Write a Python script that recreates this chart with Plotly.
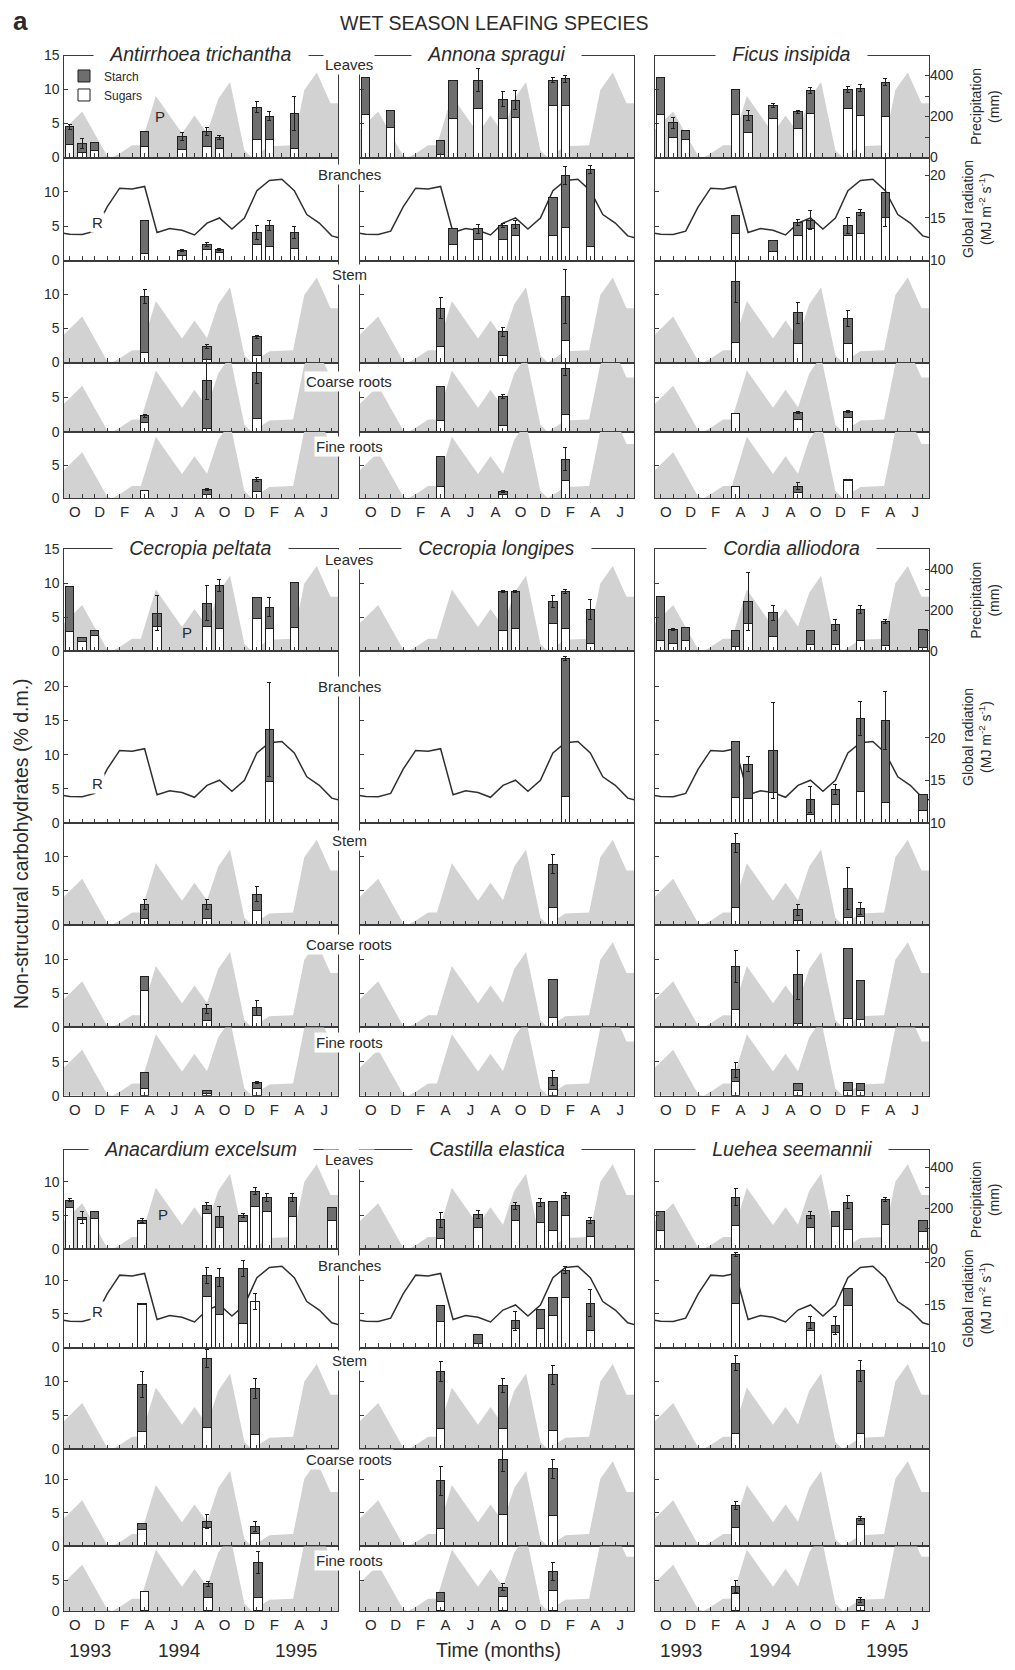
import plotly.graph_objects as go

W, H = 1015, 1670
FONT = "Liberation Sans, Arial, sans-serif"

# ---------------- data ----------------
MONTH_TICKS = list(range(0, 22))          # 0 = Oct 1993 ... 21 = Jul 1995
MONTH_TEXT = ['O', '', 'D', '', 'F', '', 'A', '', 'J', '', 'A', '',
              'O', '', 'D', '', 'F', '', 'A', '', 'J', '']
YEAR_LABELS = ['1993', '1994', '1995']
YEAR_POS = [1.6, 8.8, 18.1]

# monthly precipitation (mm)
PREC_MONTHS = [-0.5, 1.0, 3.0, 3.4, 4.0, 5.0, 5.7, 6.9, 9.0, 10.0, 11.0, 11.9,
               12.85, 14.0, 14.6, 16.0, 17.9, 18.8, 19.8, 20.9, 21.5]
PREC_MM = [135, 225, 8, 0, 20, 60, 60, 300, 118, 205, 120, 285,
           368, 35, 0, 55, 60, 330, 415, 265, 265]

# global radiation (MJ m-2 s-1)
RAD_MONTHS = [-0.5, 0, 1, 2, 3, 4, 5, 6, 7, 8, 9, 10, 11, 12, 13, 14, 15, 16,
              17, 18, 19, 20, 21, 21.5]
RAD_MJ = [13.2, 13.1, 13.05, 13.45, 16.3, 18.5, 18.4, 18.7, 13.3, 13.75, 13.55,
          13.0, 14.4, 15.0, 13.7, 15.0, 18.2, 19.4, 19.55, 18.2, 15.4, 14.4,
          12.9, 12.7]

ORGANS = ['Leaves', 'Branches', 'Stem', 'Coarse roots', 'Fine roots']

# (month, sugars, total NSC, error) for every sampled bar
ANTIRRHOEA = {
    'Leaves': [(0, 1.85, 4.5, 0.4), (1, 0.8, 2.1, 0.7), (2, 1.1, 2.2, 0), (6, 1.6, 3.8, 0),
               (9, 1.25, 3.05, 0.6), (11, 1.6, 3.8, 0.6), (12, 1.35, 3.0, 0.3),
               (15, 2.7, 7.4, 0.8), (16, 2.7, 6.1, 0.7), (18, 1.35, 6.5, 2.5)],
    'Branches': [(6, 1.0, 5.85, 0), (9, 0.8, 1.45, 0.2), (11, 1.55, 2.4, 0.3), (12, 1.2, 1.6, 0.2),
                 (15, 2.4, 4.1, 1.0), (16, 2.1, 5.1, 0.7), (18, 1.7, 4.1, 0.9)],
    'Stem': [(6, 1.5, 9.75, 1.0), (11, 0.4, 2.3, 0.3), (15, 1.0, 3.8, 0.2)],
    'Coarse roots': [(6, 1.4, 2.3, 0.2), (11, 0.5, 7.4, 2.7), (15, 2.0, 8.5, 1.5)],
    'Fine roots': [(6, 1.1, 1.15, 0), (11, 0.5, 1.3, 0.2), (15, 1.0, 2.8, 0.3)],
}
ANNONA = {
    'Leaves': [(0, 6.3, 11.75, 0), (2, 4.4, 6.9, 0), (6, 0.4, 2.5, 0), (7, 5.7, 11.4, 0),
               (9, 7.2, 11.4, 1.7), (11, 5.75, 8.6, 1.1), (12, 5.85, 8.4, 1.4),
               (15, 7.65, 11.4, 0.4), (16, 7.65, 11.6, 0.5)],
    'Branches': [(7, 2.4, 4.7, 0), (9, 3.0, 4.6, 0.7), (11, 3.0, 5.1, 0.3), (12, 3.6, 5.2, 0.6),
                 (15, 3.6, 9.2, 0), (16, 4.8, 12.4, 1.3), (18, 2.0, 13.3, 0.6)],
    'Stem': [(6, 2.4, 8.0, 1.5), (11, 1.0, 4.5, 0.6), (16, 3.3, 9.75, 4.0)],
    'Coarse roots': [(6, 1.6, 6.6, 0), (11, 0.9, 5.15, 0.3), (16, 2.5, 9.1, 1.0)],
    'Fine roots': [(6, 1.8, 6.3, 0), (11, 0.5, 1.0, 0.2), (16, 2.6, 5.9, 1.7)],
}
FICUS = {
    'Leaves': [(0, 6.35, 11.7, 0), (1, 2.9, 5.1, 0.8), (2, 2.7, 4.0, 0), (6, 6.35, 10.0, 0),
               (7, 3.7, 6.2, 0.7), (9, 5.7, 7.7, 0.3), (11, 4.3, 6.7, 0.2), (12, 6.55, 9.85, 0.5),
               (15, 7.2, 10.0, 0.4), (16, 6.2, 10.2, 0.5), (18, 6.1, 11.1, 0.5)],
    'Branches': [(6, 3.9, 6.5, 0), (9, 1.35, 2.9, 0), (11, 3.6, 5.55, 0.5), (12, 4.7, 5.9, 1.4),
                 (15, 3.6, 5.1, 1.2), (16, 4.0, 7.0, 0.4), (18, 6.2, 9.9, 5.0)],
    'Stem': [(6, 2.95, 11.9, 3.0), (11, 2.8, 7.3, 1.6), (15, 2.8, 6.45, 1.2)],
    'Coarse roots': [(6, 2.6, 2.6, 0), (11, 1.75, 2.8, 0.2), (15, 2.1, 2.95, 0.2)],
    'Fine roots': [(6, 1.8, 1.8, 0), (11, 0.8, 1.8, 0.5), (15, 2.6, 2.8, 0)],
}
CECROPIA_P = {
    'Leaves': [(0, 2.95, 9.6, 0), (1, 1.45, 2.0, 0), (2, 2.3, 3.05, 0), (7, 3.7, 5.6, 2.6),
               (11, 3.7, 7.05, 2.6), (12, 3.3, 9.7, 0.9), (15, 4.85, 7.9, 0),
               (16, 3.3, 6.5, 1.4), (18, 3.45, 10.05, 0)],
    'Branches': [(16, 6.0, 13.7, 6.9)],
    'Stem': [(6, 0.95, 2.95, 0.75), (11, 0.95, 2.95, 0.75), (15, 2.15, 4.5, 1.1)],
    'Coarse roots': [(6, 5.35, 7.45, 0), (11, 1.0, 2.7, 0.7), (15, 1.7, 2.9, 1.1)],
    'Fine roots': [(6, 1.1, 3.4, 0), (11, 0.4, 0.7, 0), (15, 1.1, 1.95, 0.2)],
}
CECROPIA_L = {
    'Leaves': [(11, 3.0, 8.8, 0.2), (12, 3.3, 8.8, 0.2), (15, 4.0, 7.35, 0.9),
               (16, 3.3, 8.8, 0.3), (18, 1.05, 6.1, 1.5)],
    'Branches': [(16, 3.8, 24.1, 0.3)],
    'Stem': [(15, 2.5, 8.9, 1.4)],
    'Coarse roots': [(15, 1.5, 7.05, 0)],
    'Fine roots': [(15, 0.9, 2.65, 1.1)],
}
CORDIA = {
    'Leaves': [(0, 1.6, 8.1, 0), (1, 1.1, 3.2, 0.2), (2, 1.6, 3.45, 0), (6, 0.7, 3.1, 0),
               (7, 4.0, 7.35, 4.3), (9, 2.1, 5.65, 1.1), (12, 1.0, 3.1, 0), (14, 1.0, 3.9, 0.8),
               (16, 1.5, 6.2, 0.6), (18, 0.8, 4.4, 0.3), (21, 0.5, 3.2, 0)],
    'Branches': [(6, 3.7, 12.0, 0), (7, 3.55, 8.6, 1.1), (9, 4.5, 10.6, 7.1), (12, 1.15, 3.4, 1.9),
                 (14, 2.65, 4.85, 0.7), (16, 4.65, 15.3, 2.5), (18, 3.05, 15.0, 4.3),
                 (21, 1.85, 4.1, 0)],
    'Stem': [(6, 2.55, 12.0, 1.4), (11, 0.7, 2.2, 0.8), (15, 1.1, 5.4, 3.1), (16, 1.2, 2.45, 0.9)],
    'Coarse roots': [(6, 2.65, 8.9, 2.3), (11, 0.6, 7.7, 3.6), (15, 1.3, 11.5, 0), (16, 1.2, 6.9, 0)],
    'Fine roots': [(6, 2.05, 3.8, 1.1), (11, 0.7, 1.8, 0), (15, 0.8, 1.95, 0), (16, 0.7, 1.8, 0)],
}
ANACARDIUM = {
    'Leaves': [(0, 6.15, 7.3, 0.2), (1, 4.4, 4.7, 0.9), (2, 4.6, 5.65, 0), (5.8, 3.8, 4.25, 0.3),
               (11, 5.3, 6.45, 0.5), (12, 3.2, 4.8, 1.5), (13.9, 4.1, 5.05, 0.3),
               (14.85, 6.3, 8.6, 0.5), (15.8, 5.65, 7.7, 0.6), (17.85, 4.9, 7.7, 0.6),
               (21, 4.2, 6.15, 0)],
    'Branches': [(5.8, 6.35, 6.6, 0), (11, 7.65, 10.7, 1.2), (12, 4.9, 10.4, 1.3),
                 (13.9, 3.55, 11.7, 1.2), (14.85, 6.8, 6.8, 1.2)],
    'Stem': [(5.8, 2.65, 9.55, 1.9), (11, 3.15, 13.4, 1.3), (14.85, 2.1, 8.95, 1.5)],
    'Coarse roots': [(5.8, 2.45, 3.35, 0), (11, 2.8, 3.7, 1.1), (14.85, 1.85, 2.95, 0.7)],
    'Fine roots': [(6, 3.2, 3.2, 0), (11.1, 2.15, 4.45, 0.4), (15.1, 2.25, 7.9, 1.8)],
}
CASTILLA = {
    'Leaves': [(6, 1.65, 4.4, 1.1), (9, 3.3, 5.15, 0.6), (12, 4.25, 6.45, 0.5), (14, 4.0, 6.9, 0.6),
               (15, 2.8, 7.1, 0), (16, 5.0, 8.0, 0.5), (18, 1.95, 4.25, 0.4)],
    'Branches': [(6, 3.85, 6.2, 0), (9, 0.6, 1.9, 0), (12, 2.8, 4.0, 1.4), (14, 2.9, 5.6, 0),
                 (15, 4.7, 7.4, 0), (16, 7.5, 11.5, 0.5), (18, 2.6, 6.6, 2.0)],
    'Stem': [(6, 3.1, 11.5, 1.5), (11, 3.1, 9.4, 1.0), (15, 2.7, 11.0, 1.4)],
    'Coarse roots': [(6, 2.7, 9.75, 2.1), (11, 4.8, 12.9, 1.8), (15, 4.6, 11.55, 1.4)],
    'Fine roots': [(6, 1.5, 3.0, 0), (11, 2.4, 3.9, 0.6), (15, 3.3, 6.4, 1.5)],
}
LUEHEA = {
    'Leaves': [(0, 2.8, 5.65, 0), (6, 3.5, 7.75, 1.3), (12, 3.2, 5.05, 0.5), (14, 3.4, 5.65, 0),
               (15, 3.0, 7.0, 1.0), (18, 3.65, 7.4, 0.3), (21, 2.7, 4.2, 0)],
    'Branches': [(6, 6.55, 13.8, 0.3), (12, 2.6, 3.7, 0.9), (14, 2.2, 3.3, 1.3), (15, 6.2, 8.75, 0)],
    'Stem': [(6, 2.3, 12.7, 1.1), (16, 2.3, 11.55, 1.6)],
    'Coarse roots': [(6, 2.85, 6.1, 0.6), (16, 3.25, 4.1, 0.3)],
    'Fine roots': [(6, 2.8, 4.0, 1.0), (16, 0.95, 1.8, 0.4)],
}

GROUPS = [
    [('Antirrhoea trichantha', ANTIRRHOEA), ('Annona spragui', ANNONA), ('Ficus insipida', FICUS)],
    [('Cecropia peltata', CECROPIA_P), ('Cecropia longipes', CECROPIA_L), ('Cordia alliodora', CORDIA)],
    [('Anacardium excelsum', ANACARDIUM), ('Castilla elastica', CASTILLA), ('Luehea seemannii', LUEHEA)],
]

# ---------------- layout geometry (pixels) ----------------
COL_X = [(63.5, 338.0), (359.5, 634.0), (654.5, 929.0)]
ROW_EDGES = [
    [48, 151, 255, 358, 428, 495],
    [546.7, 649.3, 822.7, 925.7, 1029.3, 1098.3],
    [1153.3, 1253.3, 1352.5, 1455, 1553.3, 1618.5],
]
Y_RANGES = [
    [15, 15, 15, 10, 10],
    [15, 25.2, 15, 15, 10],
    [14.7, 14.6, 15, 14.5, 10.5],
]
Y_TICKS = [
    [[0, 5, 10, 15], [0, 5, 10], [0, 5, 10], [0, 5], [0, 5]],
    [[0, 5, 10, 15], [0, 5, 10, 15, 20], [0, 5, 10], [0, 5, 10], [0, 5]],
    [[0, 5, 10], [0, 5, 10], [0, 5, 10], [0, 5, 10], [0, 5]],
]
ORGAN_LABEL_Y = [
    [57, 168, 269, 377, 443],
    [557, 685, 841, 946, 1045],
    [1163, 1270, 1366, 1466, 1568],
]
P_POS = [(7.2, 6.1), (9.4, 2.8), (7.5, 5.1)]
R_POS = [(2.2, 5.55), (2.2, 5.7), (2.2, 5.4)]

PX_PER_MM = 0.207    # precipitation scale (same in every panel)
PX_PER_MJ = 8.6      # radiation scale

AX_COL = '#3a3a3a'
TXT_COL = '#2a2a2a'
STARCH_COL = '#6e6e6e'
PREC_COL = '#d2d2d2'

fig = go.Figure()
layout = dict(
    width=W, height=H, margin=dict(l=0, r=0, t=0, b=0), autosize=False,
    paper_bgcolor='white', plot_bgcolor='white', barmode='stack',
    font=dict(family=FONT, color=TXT_COL, size=14),
    showlegend=True,
    legend=dict(x=64 / W, y=1 - 54 / H, xanchor='left', yanchor='top',
                traceorder='reversed', bgcolor='rgba(0,0,0,0)',
                font=dict(size=12, family=FONT, color=TXT_COL),
                itemwidth=30, tracegroupgap=0),
)
annotations = []


def ann(text, x, y, xref='paper', yref='paper', size=14, **kw):
    d = dict(text=text, x=x, y=y, xref=xref, yref=yref, showarrow=False,
             xanchor='center', yanchor='middle',
             font=dict(size=size, family=FONT, color=TXT_COL))
    d.update(kw)
    annotations.append(d)


N_PANELS = sum(len(r) for r in GROUPS) * len(ORGANS)
panel = 0
right_ax = N_PANELS          # numbering for right-hand axes
bar_ax = N_PANELS + 10       # numbering for the bar overlays (drawn above the background)
for g, row in enumerate(GROUPS):
    edges = ROW_EDGES[g]
    for c, (name, sp) in enumerate(row):
        x0, x1 = COL_X[c]
        for o, organ in enumerate(ORGANS):
            panel += 1
            top, bot = edges[o], edges[o + 1]
            yr = Y_RANGES[g][o]
            units_per_px = yr / (bot - top)
            xa, ya = f'x{panel}', f'y{panel}'
            is_bottom = (o == len(ORGANS) - 1)
            layout[f'xaxis{panel}'] = dict(
                domain=[x0 / W, x1 / W], anchor=ya, range=[-0.5, 21.5],
                showline=True, mirror=True, linecolor=AX_COL, linewidth=1.3,
                showgrid=False, zeroline=False,
                tickmode='array', tickvals=MONTH_TICKS, ticktext=MONTH_TEXT,
                ticks='inside', ticklen=4, tickwidth=1, tickcolor=AX_COL,
                showticklabels=is_bottom, ticklabelshift=5,
                tickfont=dict(size=15, family=FONT, color=TXT_COL),
            )
            layout[f'yaxis{panel}'] = dict(
                domain=[1 - bot / H, 1 - top / H], anchor=xa, range=[0, yr],
                showline=True, mirror=True, linecolor=AX_COL, linewidth=1.3,
                showgrid=False, zeroline=False,
                tickmode='array', tickvals=Y_TICKS[g][o],
                ticks='inside', ticklen=4, tickwidth=1, tickcolor=AX_COL,
                showticklabels=(c == 0),
                tickfont=dict(size=14, family=FONT, color=TXT_COL),
            )

            # background: precipitation area or radiation line
            if organ == 'Branches':
                fig.add_trace(go.Scatter(
                    x=RAD_MONTHS, y=[(v - 10) * PX_PER_MJ * units_per_px for v in RAD_MJ],
                    mode='lines', line=dict(color='#2f2f2f', width=1.5),
                    xaxis=xa, yaxis=ya, showlegend=False, hoverinfo='skip'))
            else:
                fig.add_trace(go.Scatter(
                    x=PREC_MONTHS, y=[p * PX_PER_MM * units_per_px for p in PREC_MM],
                    mode='lines', fill='tozeroy', fillcolor=PREC_COL,
                    line=dict(width=0, color=PREC_COL),
                    xaxis=xa, yaxis=ya, showlegend=False, hoverinfo='skip'))

            # bars on an overlaying axis with the same range (drawn on top)
            recs = sp.get(organ, [])
            if recs:
                bar_ax += 1
                yb = f'y{bar_ax}'
                layout[f'yaxis{bar_ax}'] = dict(overlaying=ya, anchor=xa, range=[0, yr],
                                               visible=False, showgrid=False, zeroline=False)
                months = [r[0] for r in recs]
                sugars = [r[1] for r in recs]
                starch = [r[2] - r[1] for r in recs]
                errs = [r[3] if r[3] > 0 else None for r in recs]
                first = (panel == 1)
                fig.add_trace(go.Bar(
                    x=months, y=sugars, width=0.68, name='Sugars',
                    marker=dict(color='white', line=dict(color='#1e1e1e', width=1)),
                    xaxis=xa, yaxis=yb, showlegend=first, legendgroup='sug'))
                fig.add_trace(go.Bar(
                    x=months, y=starch, width=0.68, name='Starch',
                    marker=dict(color=STARCH_COL, line=dict(color='#1e1e1e', width=1)),
                    error_y=dict(type='data', array=errs, symmetric=True,
                                 color='#1e1e1e', thickness=1, width=2),
                    xaxis=xa, yaxis=yb, showlegend=first, legendgroup='sta'))

            # right-hand axes of the last column
            if c == 2 and organ in ('Leaves', 'Branches'):
                right_ax += 1
                if organ == 'Leaves':
                    rng = [0, (bot - top) / PX_PER_MM]
                    tv, tt = [0, 100, 200, 300, 400], ['0', '', '200', '', '400']
                    ttl = 'Precipitation<br>(mm)'
                else:
                    rng = [10, 10 + (bot - top) / PX_PER_MJ]
                    tv, tt = [10, 15, 20], ['10', '15', '20']
                    ttl = 'Global radiation<br>(MJ m<sup>-2</sup> s<sup>-1</sup>)'
                layout[f'yaxis{right_ax}'] = dict(
                    overlaying=ya, anchor=xa, side='right', range=rng,
                    tickmode='array', tickvals=tv, ticktext=tt,
                    ticks='inside', ticklen=4, tickcolor=AX_COL,
                    showline=False, showgrid=False, zeroline=False,
                    tickfont=dict(size=14, family=FONT, color=TXT_COL),
                    title=dict(text=ttl, font=dict(size=14, family=FONT, color=TXT_COL), standoff=18),
                )
                fig.add_trace(go.Scatter(x=[None], y=[None], xaxis=xa, yaxis=f'y{right_ax}',
                                         mode='markers', showlegend=False, hoverinfo='skip'))

            # organ labels in the gap between first and second column
            if c == 0:
                ann(organ, 349 / W, 1 - ORGAN_LABEL_Y[g][o] / H, size=15,
                    bgcolor='white', borderpad=1)
                if organ == 'Leaves':
                    ann('P', P_POS[g][0], P_POS[g][1], xref=xa, yref=ya, size=15)
                if organ == 'Branches':
                    ann('R', R_POS[g][0], R_POS[g][1], xref=xa, yref=ya, size=15,
                        bgcolor='white', borderpad=1)
            if g == 2 and is_bottom and c in (0, 2):
                for lab, pos in zip(YEAR_LABELS, YEAR_POS):
                    ann(lab, pos, 1 - 1658 / H, xref=xa, size=19)

        # species title sitting on the top border of the column
        ann('&nbsp;&nbsp;&nbsp;<i>' + name + '</i>&nbsp;&nbsp;&nbsp;',
            (x0 + x1) / 2 / W, 1 - (edges[0] - 1.5) / H, size=19.5,
            bgcolor='white', borderpad=0, height=24)

ann('WET SEASON LEAFING SPECIES', 494 / W, 1 - 15 / H, size=19.5)
ann('<b>a</b>', 20 / W, 1 - 13 / H, size=26)
ann('Non-structural carbohydrates (% d.m.)', 21 / W, 1 - 844 / H, size=19.5, textangle=-90)
ann('Time (months)', 498 / W, 1 - 1658 / H, size=19.5)

layout['annotations'] = annotations
fig.update_layout(**layout)
fig.write_html('out.html', config={'displayModeBar': False},
               post_script="document.body.style.margin='0px';")
